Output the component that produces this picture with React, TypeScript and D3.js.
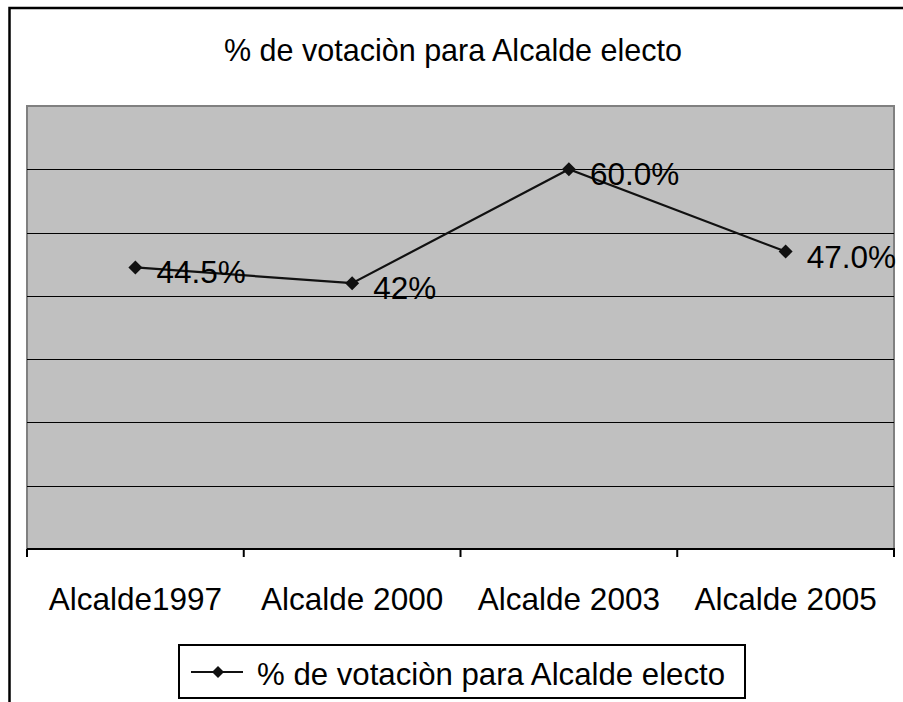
import * as d3 from 'd3'

const categories = ['Alcalde1997', 'Alcalde 2000', 'Alcalde 2003', 'Alcalde 2005']
const values = [0.445, 0.42, 0.6, 0.47]
const valueLabels = ['44.5%', '42%', '60.0%', '47.0%']
const yTicks = [0, 0.1, 0.2, 0.3, 0.4, 0.5, 0.6, 0.7]
const title = '% de votaciòn para Alcalde electo'
const seriesName = '% de votaciòn para Alcalde electo'

const W = 903
const H = 702
const plot = { left: 27, top: 106, right: 894, bottom: 549 }
const font = '"Liberation Sans", Arial, sans-serif'
const fs = 31.5

export default function App() {
  const x = d3.scaleBand<string>().domain(categories).range([plot.left, plot.right]).padding(0)
  const y = d3.scaleLinear().domain([0, 0.7]).range([plot.bottom, plot.top])

  const pts = categories.map((c, i) => ({ c, v: values[i], label: valueLabels[i] }))
  const cx = (c: string) => (x(c) || 0) + x.bandwidth() / 2

  const line = d3.line<{ c: string; v: number }>()
    .x(d => cx(d.c))
    .y(d => y(d.v))

  const diamond = (px: number, py: number, r: number) =>
    `M${px},${py - r}L${px + r},${py}L${px},${py + r}L${px - r},${py}Z`

  const tickXs = [...categories.map(c => x(c) || 0), plot.right]

  return (
    <svg width={W} height={H} style={{ position: 'absolute', left: 0, top: 0, background: '#fff' }} fontFamily={font}>
      {/* outer chart border, runs off right/bottom */}
      <rect x={9.5} y={8} width={W + 20} height={H + 20} fill="#fff" stroke="#000" strokeWidth={2.5} />

      <text x={224} y={61} fontSize={fs} textLength={458} lengthAdjust="spacingAndGlyphs" fill="#000">{title}</text>

      {/* plot area */}
      <rect x={plot.left} y={plot.top} width={plot.right - plot.left} height={plot.bottom - plot.top}
        fill="#c0c0c0" stroke="#808080" strokeWidth={2} />

      {yTicks.slice(1, -1).map(t => (
        <line key={t} x1={plot.left} x2={plot.right} y1={Math.round(y(t)) + 0.5} y2={Math.round(y(t)) + 0.5}
          stroke="#000" strokeWidth={1} />
      ))}

      {/* category axis */}
      <line x1={plot.left} x2={plot.right + 1} y1={plot.bottom} y2={plot.bottom} stroke="#000" strokeWidth={2} />
      {tickXs.map((tx, i) => (
        <line key={i} x1={tx} x2={tx} y1={plot.bottom} y2={plot.bottom + 8} stroke="#000" strokeWidth={2} />
      ))}
      {categories.map(c => (
        <text key={c} x={cx(c)} y={610} textAnchor="middle" fontSize={fs} fill="#000">{c}</text>
      ))}

      {/* series */}
      <path d={line(pts) || ''} fill="none" stroke="#111" strokeWidth={2.2} />
      {pts.map(p => (
        <path key={p.c} d={diamond(cx(p.c), y(p.v), 7)} fill="#111" />
      ))}
      {pts.map(p => (
        <text key={p.c + 'l'} x={cx(p.c) + 21} y={y(p.v) + 16} fontSize={fs} fill="#000">{p.label}</text>
      ))}

      {/* legend */}
      <rect x={179} y={645} width={566} height={53} fill="#fff" stroke="#000" strokeWidth={2} />
      <line x1={191} x2={243} y1={672} y2={672} stroke="#111" strokeWidth={2} />
      <path d={diamond(218, 672, 6)} fill="#111" />
      <text x={257} y={685} fontSize={fs} textLength={468} lengthAdjust="spacingAndGlyphs" fill="#000">{seriesName}</text>
    </svg>
  )
}
